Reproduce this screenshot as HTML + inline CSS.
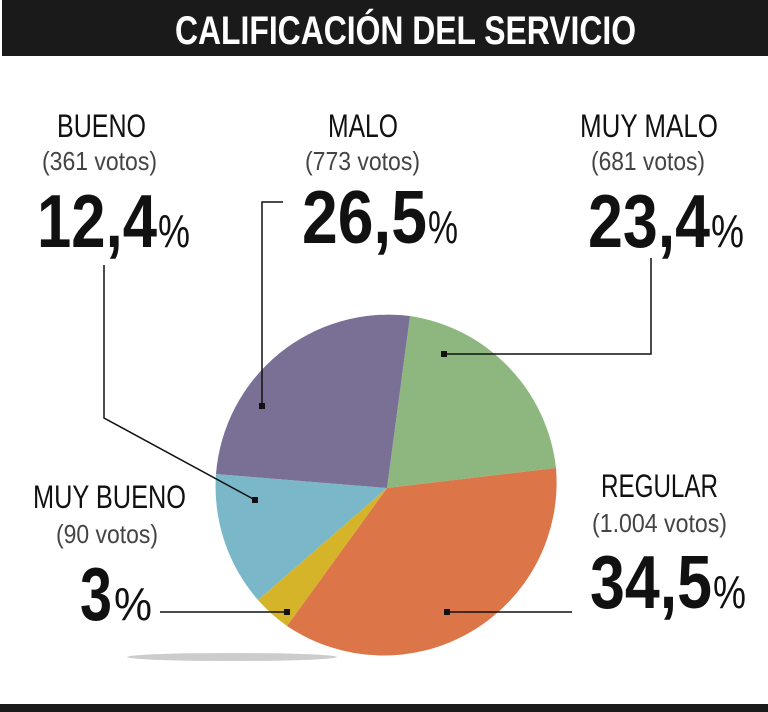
<!DOCTYPE html>
<html><head><meta charset="utf-8"><style>html,body{margin:0;padding:0;background:#fff;}svg{display:block}</style></head>
<body>
<svg width="768" height="712" viewBox="0 0 768 712" xmlns="http://www.w3.org/2000/svg" font-family="Liberation Sans, sans-serif">
<rect x="2" y="0" width="766" height="56" fill="#1a1a1a"/>
<text x="175" y="44" font-size="40" font-weight="bold" fill="#fff" textLength="461" lengthAdjust="spacingAndGlyphs">CALIFICACIÓN DEL SERVICIO</text>
<ellipse cx="232" cy="657" rx="105" ry="4" fill="#ccc"/>
<g stroke="none">
<path d="M387,488 L410,316 A173,173 0 0 1 556,468 Z" fill="#8db77f"/>
<path d="M387,488 L556,468 A173,173 0 0 1 287,626 Z" fill="#dc7548"/>
<path d="M387,488 L287,626 A173,173 0 0 1 258,600 Z" fill="#d5b42a"/>
<path d="M387,488 L258,600 A173,173 0 0 1 216,474 Z" fill="#7ab8c9"/>
<path d="M387,488 L216,474 A173,173 0 0 1 410,316 Z" fill="#7a7096"/>
</g>
<g stroke="#111" stroke-width="1.5" fill="none">
<polyline points="104,265 104,418 255,500"/>
<polyline points="283,202 262,202 262,406"/>
<polyline points="651,258 651,354 444,354"/>
<polyline points="160,612 287,612"/>
<polyline points="572,612 447,612"/>
</g>
<g fill="#111">
<rect x="252" y="497" width="6" height="6"/><rect x="259" y="403" width="6" height="6"/>
<rect x="441" y="351" width="6" height="6"/><rect x="284" y="609" width="6" height="6"/>
<rect x="444" y="609" width="6" height="6"/>
</g>
<g fill="#111" font-size="32">
<text x="57" y="137" textLength="89" lengthAdjust="spacingAndGlyphs">BUENO</text>
<text x="328" y="137" textLength="70" lengthAdjust="spacingAndGlyphs">MALO</text>
<text x="580" y="137" textLength="138" lengthAdjust="spacingAndGlyphs">MUY MALO</text>
<text x="33" y="508" textLength="153" lengthAdjust="spacingAndGlyphs">MUY BUENO</text>
<text x="601" y="497" textLength="117" lengthAdjust="spacingAndGlyphs">REGULAR</text>
</g>
<g fill="#444" font-size="26">
<text x="42" y="170" textLength="115" lengthAdjust="spacingAndGlyphs">(361 votos)</text>
<text x="305" y="170" textLength="115" lengthAdjust="spacingAndGlyphs">(773 votos)</text>
<text x="591" y="170" textLength="114" lengthAdjust="spacingAndGlyphs">(681 votos)</text>
<text x="56" y="543" textLength="102" lengthAdjust="spacingAndGlyphs">(90 votos)</text>
<text x="592" y="532" textLength="135" lengthAdjust="spacingAndGlyphs">(1.004 votos)</text>
</g>
<g fill="#111" font-size="75" font-weight="bold">
<text x="37" y="247" textLength="120" lengthAdjust="spacingAndGlyphs">12,4</text>
<text x="302" y="243" textLength="125" lengthAdjust="spacingAndGlyphs">26,5</text>
<text x="588" y="247" textLength="122" lengthAdjust="spacingAndGlyphs">23,4</text>
<text x="80" y="620" textLength="32" lengthAdjust="spacingAndGlyphs">3</text>
<text x="590" y="608" textLength="122" lengthAdjust="spacingAndGlyphs">34,5</text>
</g>
<g fill="#111" font-size="46">
<text x="158" y="247" textLength="32" lengthAdjust="spacingAndGlyphs">%</text>
<text x="428" y="243" textLength="30" lengthAdjust="spacingAndGlyphs">%</text>
<text x="711" y="247" textLength="33" lengthAdjust="spacingAndGlyphs">%</text>
<text x="114" y="620" textLength="38" lengthAdjust="spacingAndGlyphs">%</text>
<text x="713" y="608" textLength="33" lengthAdjust="spacingAndGlyphs">%</text>
</g>
<rect x="0" y="704" width="768" height="8" fill="#1a1a1a"/>
</svg>
</body></html>
